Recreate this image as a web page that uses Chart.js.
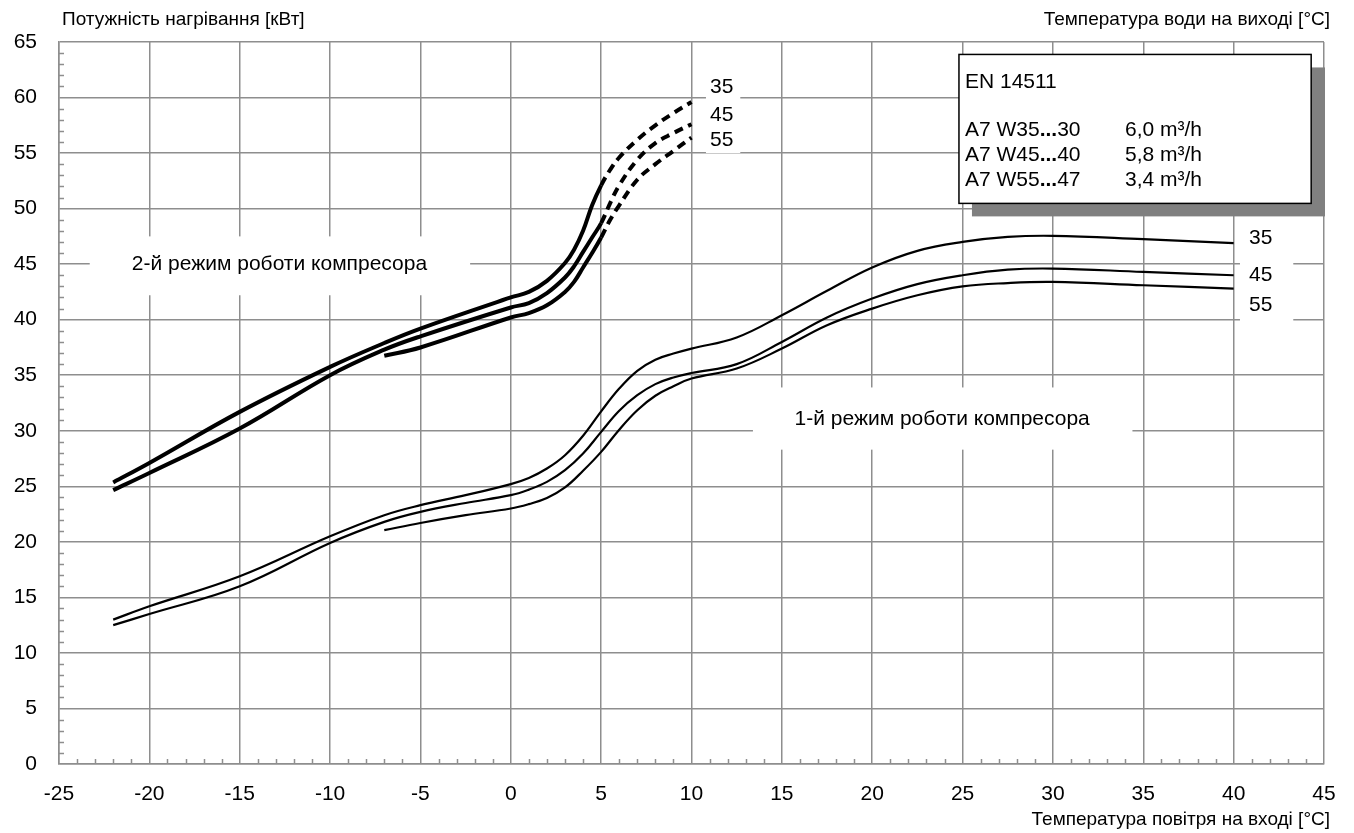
<!DOCTYPE html>
<html>
<head>
<meta charset="utf-8">
<script src="https://cdn.jsdelivr.net/npm/chart.js@4.4.1/dist/chart.umd.min.js"></script>
<style>
html,body{margin:0;padding:0;background:#fff;}
#wrap{width:1354px;height:833px;position:relative;}
</style>
</head>
<body>
<div id="wrap"><canvas id="c" width="1354" height="833"></canvas></div>
<script>
// ---- Data ----
const xTicks = [-25,-20,-15,-10,-5,0,5,10,15,20,25,30,35,40,45];
const yTicks = [0,5,10,15,20,25,30,35,40,45,50,55,60,65];

// 2nd compressor mode (thick; dashed beyond 5 °C)
const m2_35_x = [-22,-20,-15,-10,-7,-5,0,1,2,3,3.5,4,4.5,5,5.5,6,7,8,9,10];
const m2_35_y = [25.35,27.1,31.7,35.75,37.9,39.2,42.0,42.5,43.5,45.1,46.3,48.0,50.3,52.1,53.5,54.6,56.2,57.5,58.6,59.6];
const m2_45_x = [-22,-20,-15,-10,-7,-5,0,1,2,3,3.5,4,4.5,5,5.5,6,7,8,9,10];
const m2_45_y = [24.66,26.2,30.2,35.0,37.3,38.5,41.1,41.5,42.4,43.8,44.8,46.1,47.4,48.7,50.5,52.1,54.4,55.9,56.8,57.6];
const m2_55_x = [-7,-5,0,1,2,3,3.5,4,4.5,5,5.5,6,7,8,9,10];
const m2_55_y = [36.75,37.5,40.2,40.6,41.3,42.5,43.4,44.7,46.0,47.4,49.0,50.3,52.6,54.0,55.2,56.4];

// 1st compressor mode (thin)
const m1_35_x = [-22,-20,-15,-10,-7,-5,-2.5,0,1,2,3,4,5,6,7,8,9,10,12.5,15,17.5,20,22.5,25,27.5,30,35,40];
const m1_35_y = [13.0,14.2,16.9,20.5,22.4,23.3,24.2,25.2,25.75,26.6,27.8,29.55,31.75,33.8,35.4,36.4,36.95,37.4,38.4,40.4,42.6,44.7,46.2,47.0,47.45,47.55,47.25,46.9];
const m1_45_x = [-22,-20,-15,-10,-7,-5,-2.5,0,1,2,3,4,5,6,7,8,9,10,12.5,15,17.5,20,22.5,25,27.5,30,35,40];
const m1_45_y = [12.5,13.5,16.0,19.9,21.8,22.7,23.5,24.2,24.7,25.4,26.45,27.95,29.9,31.8,33.2,34.2,34.8,35.2,36.0,38.0,40.2,41.9,43.2,44.0,44.5,44.6,44.3,44.0];
const m1_55_x = [-7,-5,-2.5,0,1,2,3,4,5,6,7,8,9,10,12.5,15,17.5,20,22.5,25,27.5,30,35,40];
const m1_55_y = [21.05,21.7,22.4,23.0,23.4,23.95,24.9,26.4,28.1,30.1,31.85,33.15,34.0,34.7,35.6,37.4,39.5,41.0,42.2,43.0,43.3,43.4,43.1,42.8];

const curveLabels = ["35","45","55"];
const legendTitle = "EN 14511";
const legendRows = [["A7 W35","30","6,0 m³/h"],["A7 W45","40","5,8 m³/h"],["A7 W55","47","3,4 m³/h"]];
const mode2Label = "2-й режим роботи компресора";
const mode1Label = "1-й режим роботи компресора";
const yTitle = "Потужність нагрівання [кВт]";
const xTitle = "Температура повітря на вході [°C]";
const rTitle = "Температура води на виході [°C]";

// ---- Build ----
const FONT = '"Liberation Sans", Arial, sans-serif';
const GRID = '#8e8e8e';
function pts(xs, ys){ return xs.map((x,i)=>({x:x, y:ys[i]})); }
const dashAfter5 = ctx => (ctx.p0.parsed.x >= 4.999 ? [9,6] : undefined);

function ds(xs, ys, w, dashed){
  const d = {
    data: pts(xs, ys), borderColor:'#000', borderWidth:w, pointRadius:0,
    tension:0.4, fill:false, borderCapStyle:'butt', borderJoinStyle:'round'
  };
  if (dashed) d.segment = {borderDash: dashAfter5};
  return d;
}

const decor = {
  id:'decor',
  beforeDatasetsDraw(chart){
    const c = chart.ctx, xs = chart.scales.x, ys = chart.scales.y;
    const X = v => xs.getPixelForValue(v), Y = v => ys.getPixelForValue(v);
    const a = chart.chartArea;
    c.save();
    // minor ticks
    c.strokeStyle = GRID; c.lineWidth = 1.5;
    c.beginPath();
    for (let v = 1; v < 65; v++){ if (v % 5 === 0) continue; const py = Math.round(Y(v))+0.5; c.moveTo(a.left, py); c.lineTo(a.left+5, py); }
    for (let v = -24; v < 45; v++){ if (v % 5 === 0) continue; const px = Math.round(X(v))+0.5; c.moveTo(px, a.bottom); c.lineTo(px, a.bottom-5); }
    c.stroke();
    // white label boxes
    c.fillStyle = '#fff';
    const box = (x0,x1,y0,y1)=>{ c.fillRect(X(x0), Y(y0), X(x1)-X(x0), Y(y1)-Y(y0)); };
    box(-23.3,-2.25,47.5,42.2);
    box(13.4,34.4,33.9,28.3);
    box(10.8,12.7,62.5,55.0);
    box(40.35,43.3,48.8,39.8);
    c.fillStyle = '#000';
    c.font = '21px ' + FONT; c.textBaseline = 'middle'; c.textAlign = 'center';
    c.fillText(mode2Label, X(-12.8), Y(45));
    c.fillText(mode1Label, X(23.87), Y(31.05));
    const topY = [60.9,58.4,56.2], rightY = [47.35,44.0,41.3];
    curveLabels.forEach((t,i)=>{ c.fillText(t, X(11.67), Y(topY[i])); c.fillText(t, X(41.5), Y(rightY[i])); });
    // legend box with shadow
    const L = X(24.8), R = X(44.29), T = Y(63.88), B = Y(50.47);
    c.fillStyle = '#808080';
    c.fillRect(L+13, T+13, Math.min(R+14, a.right+1) - (L+13), B-T);
    c.fillStyle = '#fff'; c.fillRect(L, T, R-L, B-T);
    c.strokeStyle = '#000'; c.lineWidth = 1.5; c.strokeRect(L, T, R-L, B-T);
    c.fillStyle = '#000'; c.textAlign = 'left';
    c.font = '21px ' + FONT;
    c.fillText(legendTitle, L+6, T+28);
    legendRows.forEach((r,i)=>{
      const yy = T + 76 + i*25;
      let xx = L+6;
      c.font = '21px ' + FONT; c.fillText(r[0], xx, yy); xx += c.measureText(r[0]).width;
      c.font = 'bold 21px ' + FONT; c.fillText('...', xx, yy); xx += c.measureText('...').width;
      c.font = '21px ' + FONT; c.fillText(r[1], xx, yy);
      c.fillText(r[2], L+166, yy);
    });
    // axis titles
    c.font = '19px ' + FONT; c.textBaseline = 'alphabetic';
    c.textAlign = 'left'; c.fillText(yTitle, 62, 25);
    c.textAlign = 'right'; c.fillText(rTitle, 1330, 25);
    c.fillText(xTitle, 1330, 825);
    c.restore();
  }
};

new Chart(document.getElementById('c'), {
  type:'line',
  data:{ datasets:[
    ds(m2_35_x, m2_35_y, 4, true),
    ds(m2_45_x, m2_45_y, 4, true),
    ds(m2_55_x, m2_55_y, 4, true),
    ds(m1_35_x, m1_35_y, 2.2, false),
    ds(m1_45_x, m1_45_y, 2.2, false),
    ds(m1_55_x, m1_55_y, 2.2, false)
  ]},
  options:{
    responsive:false, animation:false, devicePixelRatio:1,
    layout:{ padding:{ left:0, right:30, top:42, bottom:0 } },
    plugins:{ legend:{display:false}, tooltip:{enabled:false} },
    scales:{
      x:{ type:'linear', min:-25, max:45,
          afterBuildTicks: s => { s.ticks = xTicks.map(v=>({value:v})); },
          afterFit: s => { s.height = 69; },
          grid:{ color:GRID, lineWidth:1.5, drawTicks:false },
          border:{ color:GRID, width:1.5 },
          ticks:{ color:'#000', font:{ family:FONT, size:21 }, padding:18, maxRotation:0, autoSkip:false } },
      y:{ type:'linear', min:0, max:65,
          afterBuildTicks: s => { s.ticks = yTicks.map(v=>({value:v})); },
          afterFit: s => { s.width = 59; },
          grid:{ color:GRID, lineWidth:1.5, drawTicks:false },
          border:{ color:GRID, width:1.5 },
          ticks:{ color:'#000', font:{ family:FONT, size:21 }, padding:22, autoSkip:false } }
    }
  },
  plugins:[decor]
});
</script>
</body>
</html>
